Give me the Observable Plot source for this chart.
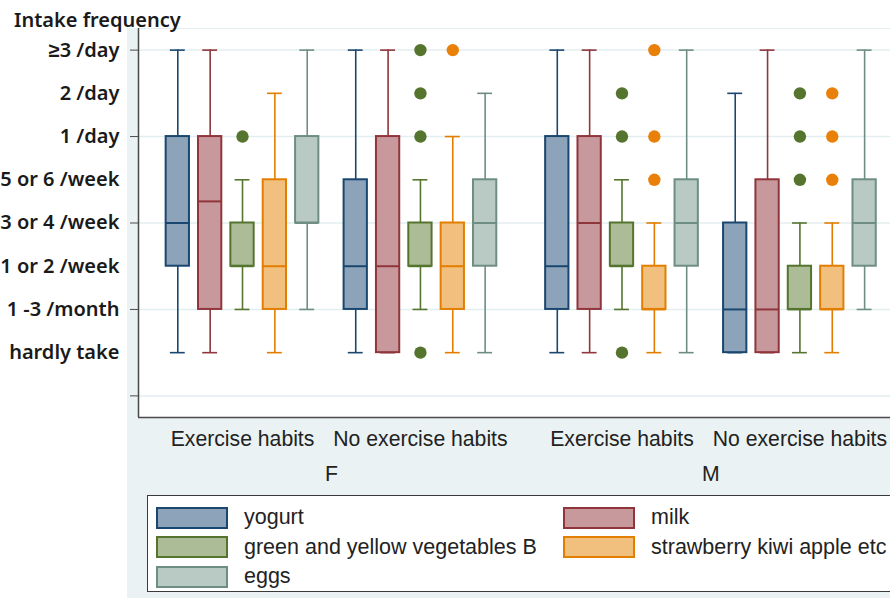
<!DOCTYPE html>
<html>
<head>
<meta charset="utf-8">
<script src="https://cdn.jsdelivr.net/npm/d3@7"></script>
<script src="https://cdn.jsdelivr.net/npm/@observablehq/plot@0.6"></script>
<style>
  html, body { margin: 0; padding: 0; background: #ffffff; }
  #wrap { position: relative; width: 890px; height: 598px; overflow: hidden; background: #ffffff; }
  #bg { position: absolute; left: 127px; top: 28px; width: 763px; height: 570px; background: #eaf2f3; }
  #chart { position: absolute; left: 0; top: 0; }
  #title { position: absolute; left: 14px; top: 6px; font-family: "Noto Sans", sans-serif; font-weight: 600; font-size: 20px; color: #1a1a1a; white-space: nowrap; }
  #legend { position: absolute; left: 147px; top: 495px; width: 800px; height: 97px; background: #ffffff; border: 1.5px solid #3a3a3a; box-sizing: border-box; }
  .item { position: absolute; display: flex; align-items: center; font-family: "Liberation Sans", Arial, sans-serif; font-size: 21.5px; color: #222; white-space: nowrap; }
  .key { width: 68px; height: 18px; border: 2px solid; margin-right: 16px; }
</style>
</head>
<body>
<div id="wrap">
  <div id="bg"></div>
  <div id="chart"></div>
  <div id="title">Intake frequency</div>
  <div id="legend"></div>
</div>
<script>
// ---- data ----
const sexes = ["F", "M"];
const exercise = ["Exercise habits", "No exercise habits"];
const foods = ["yogurt", "milk", "green and yellow vegetables B", "strawberry kiwi apple etc", "eggs"];
const freqLabels = ["hardly take", "1 -3 /month", "1 or 2 /week", "3 or 4 /week", "5 or 6 /week", "1 /day", "2 /day", "\u22653 /day"];
// box stats per group (F-Ex, F-NoEx, M-Ex, M-NoEx): [lower whisker, q1, median, q3, upper whisker]
const yogurt     = [[1, 3, 4, 6, 8], [1, 2, 3, 5, 8], [1, 2, 3, 6, 8], [1, 1, 2, 4, 7]];
const milk       = [[1, 2, 4.5, 6, 8], [1, 1, 3, 6, 8], [1, 2, 4, 6, 8], [1, 1, 2, 5, 8]];
const vegetables = [[2, 3, 3, 4, 5], [2, 3, 3, 4, 5], [2, 3, 3, 4, 5], [1, 2, 2, 3, 4]];
const fruit      = [[1, 2, 3, 5, 7], [1, 2, 3, 4, 6], [1, 2, 2, 3, 4], [1, 2, 2, 3, 4]];
const eggs       = [[2, 4, 4, 6, 8], [1, 3, 4, 5, 7], [1, 3, 4, 5, 8], [2, 3, 4, 5, 8]];
const vegOutliers   = [[6], [8, 7, 6, 1], [7, 6, 1], [7, 6, 5]];
const fruitOutliers = [[], [8], [8, 6, 5], [7, 6, 5]];
const strokeColors = ["#1a476f", "#90353b", "#55752f", "#e37e00", "#6e8e84"];
const fillColors   = ["#8da3b9", "#c8999c", "#abbc96", "#f1c07f", "#b9c9c3"];
const outlierColors = ["#55752f", "#e8800a"];

// ---- layout helpers ----
const stats = [yogurt, milk, vegetables, fruit, eggs];
const sexGap = 11.73, exGap = 5.5;
const pos = (gi, fi) => Math.floor(gi / 2) * sexGap + (gi % 2) * exGap + fi;
const boxHalf = 0.36, capHalf = 0.23;

const boxes = [];
stats.forEach((arr, fi) => arr.forEach((s, gi) => {
  boxes.push({food: foods[fi], fi, gi, x: pos(gi, fi), lo: s[0], q1: s[1], med: s[2], q3: s[3], hi: s[4]});
}));
const outliers = [];
[vegOutliers, fruitOutliers].forEach((arr, k) => arr.forEach((vals, gi) => vals.forEach(v => {
  outliers.push({k, gi, x: pos(gi, k + 2), y: v, color: outlierColors[k]});
})));

const groupCenters = [0, 1, 2, 3].map(gi => pos(gi, 2));
const groupLabel = new Map(groupCenters.map((c, gi) => [c, exercise[gi % 2]]));
const sexCenters = [0, 1].map(si => (pos(si * 2, 2) + pos(si * 2 + 1, 2)) / 2);
const sexLabel = new Map(sexCenters.map((c, si) => [c, sexes[si]]));

const xDomain = [-1.215, 22.03];
const yDomain = [-0.5, 8.5];
const fillOf = d => fillColors[d.fi];
const strokeOf = d => strokeColors[d.fi];

const chart = Plot.plot({
  width: 890,
  height: 490,
  marginLeft: 138,
  marginRight: 0,
  marginTop: 28,
  marginBottom: 73,
  style: {background: "transparent", fontFamily: "Liberation Sans, Arial, sans-serif", fontSize: "21.2px", color: "#222"},
  x: {domain: xDomain, axis: null},
  y: {domain: yDomain, axis: null},
  marks: [
    Plot.frame({fill: "white", stroke: "#e3eef0"}),
    Plot.gridY([0, 2, 4, 6, 8], {stroke: "#e3eef0", strokeOpacity: 1, strokeWidth: 1.5}),
    Plot.ruleX([xDomain[0]], {stroke: "#4a4a4a", strokeWidth: 1.5}),
    Plot.ruleY([yDomain[0]], {stroke: "#4a4a4a", strokeWidth: 1.5}),
    Plot.axisY([0, 2, 4, 6, 8], {tickSize: 8, tickFormat: () => "", stroke: "#4a4a4a", label: null}),
    Plot.axisY(d3.range(1, 9), {tickSize: 0, tickPadding: 19, tickFormat: v => freqLabels[v - 1], label: null,
      fontFamily: "Noto Sans, sans-serif", fontSize: 20, fontWeight: 600, fill: "#1a1a1a"}),
    Plot.axisX(groupCenters, {tickSize: 0, tickPadding: 13, tickFormat: v => groupLabel.get(v), label: null, fill: "#222", fontSize: 21.2}),
    Plot.axisX(sexCenters, {tickSize: 0, tickPadding: 48, tickFormat: v => sexLabel.get(v), label: null, fill: "#222", fontSize: 21.2}),
    // whiskers
    Plot.ruleX(boxes, {x: "x", y1: "q3", y2: "hi", stroke: strokeOf, strokeWidth: 1.6}),
    Plot.ruleX(boxes, {x: "x", y1: "lo", y2: "q1", stroke: strokeOf, strokeWidth: 1.6}),
    Plot.ruleY(boxes, {y: "hi", x1: d => d.x - capHalf, x2: d => d.x + capHalf, stroke: strokeOf, strokeWidth: 1.6}),
    Plot.ruleY(boxes, {y: "lo", x1: d => d.x - capHalf, x2: d => d.x + capHalf, stroke: strokeOf, strokeWidth: 1.6}),
    // boxes
    Plot.rect(boxes, {x1: d => d.x - boxHalf, x2: d => d.x + boxHalf, y1: "q1", y2: "q3", fill: fillOf, stroke: strokeOf, strokeWidth: 2}),
    Plot.ruleY(boxes, {y: "med", x1: d => d.x - boxHalf, x2: d => d.x + boxHalf, stroke: strokeOf, strokeWidth: 2}),
    // outliers
    Plot.dot(outliers, {x: "x", y: "y", r: 6.2, fill: "color", stroke: null})
  ]
});
document.getElementById("chart").appendChild(chart);

// legend
const legend = document.getElementById("legend");
foods.forEach((f, i) => {
  const row = Math.floor(i / 2), col = i % 2;
  const item = document.createElement("div");
  item.className = "item";
  item.style.left = (col === 0 ? 8 : 415) + "px";
  item.style.top = (9 + row * 29.5) + "px";
  const key = document.createElement("div");
  key.className = "key";
  key.style.background = fillColors[i];
  key.style.borderColor = strokeColors[i];
  const label = document.createElement("span");
  label.textContent = f;
  item.appendChild(key);
  item.appendChild(label);
  legend.appendChild(item);
});
</script>
</body>
</html>
